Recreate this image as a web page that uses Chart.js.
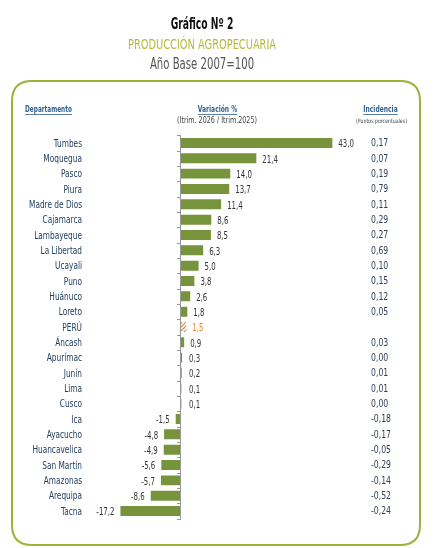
<!DOCTYPE html>
<html>
<head>
<meta charset="utf-8">
<script src="https://cdn.jsdelivr.net/npm/chart.js@4.4.0/dist/chart.umd.min.js"></script>
<style>
html,body{margin:0;padding:0;background:#fff;}
#wrap{position:relative;width:438px;height:548px;}
canvas{display:block;}
</style>
</head>
<body>
<div id="wrap"><canvas id="c" width="438" height="548"></canvas></div>
<script>
const departamentos = ["Tumbes","Moquegua","Pasco","Piura","Madre de Dios","Cajamarca","Lambayeque","La Libertad","Ucayali","Puno","Huánuco","Loreto","PERÚ","Áncash","Apurímac","Junín","Lima","Cusco","Ica","Ayacucho","Huancavelica","San Martín","Amazonas","Arequipa","Tacna"];
const variacion = [43.0,21.4,14.0,13.7,11.4,8.6,8.5,6.3,5.0,3.8,2.6,1.8,1.5,0.9,0.3,0.2,0.1,0.1,-1.5,-4.8,-4.9,-5.6,-5.7,-8.6,-17.2];
const incidencia = [0.17,0.07,0.19,0.79,0.11,0.29,0.27,0.69,0.10,0.15,0.12,0.05,null,0.03,0.00,0.01,0.01,0.00,-0.18,-0.17,-0.05,-0.29,-0.14,-0.52,-0.24];
const totalLabel = "PERÚ";

const FONT = "'Liberation Sans Narrow', 'DejaVu Sans Condensed', 'Roboto Condensed', sans-serif";
const GREEN = "#77933c";
const ORANGE = "#f0861e";

function fmt(v, d){ return v.toFixed(d).replace('.', ','); }

// draws horizontally condensed text
function ctext(ctx, t, x, y, align, sx){
  ctx.save();
  ctx.translate(x, y);
  ctx.scale(sx, 1);
  ctx.textAlign = align;
  ctx.fillText(t, 0, 0);
  ctx.restore();
}

// hatched pattern for the total bar
const pc = document.createElement('canvas');
pc.width = 4; pc.height = 4;
const px = pc.getContext('2d');
px.strokeStyle = ORANGE; px.lineWidth = 1.2;
px.beginPath(); px.moveTo(0,4); px.lineTo(4,0); px.stroke();
px.beginPath(); px.moveTo(-1,1); px.lineTo(1,-1); px.stroke();
px.beginPath(); px.moveTo(3,5); px.lineTo(5,3); px.stroke();
const ctxTmp = document.getElementById('c').getContext('2d');
const hatch = ctxTmp.createPattern(pc, 'repeat');

const colors = departamentos.map(d => d === totalLabel ? hatch : GREEN);

const decor = {
  id: 'decor',
  beforeDraw(chart){
    const ctx = chart.ctx;
    ctx.save();
    ctx.fillStyle = '#fff';
    ctx.fillRect(0,0,chart.width,chart.height);
    // titles
    ctx.textBaseline = 'middle';
    ctx.fillStyle = '#111';
    ctx.font = "bold 16px " + FONT;
    ctext(ctx, "Gráfico Nº 2", 202, 25, 'center', 0.64);
    ctx.fillStyle = '#b7b93a';
    ctx.font = "14px " + FONT;
    ctext(ctx, "PRODUCCIÓN AGROPECUARIA", 202, 45, 'center', 0.78);
    ctx.fillStyle = '#555';
    ctx.font = "15px " + FONT;
    ctext(ctx, "Año Base 2007=100", 202, 65, 'center', 0.75);
    // rounded border box
    const x0=12, y0=81, x1=420, y1=545, r=20;
    ctx.strokeStyle = '#9bb23c';
    ctx.lineWidth = 2;
    ctx.beginPath();
    ctx.moveTo(x0+r,y0); ctx.lineTo(x1-r,y0); ctx.quadraticCurveTo(x1,y0,x1,y0+r);
    ctx.lineTo(x1,y1-r); ctx.quadraticCurveTo(x1,y1,x1-r,y1);
    ctx.lineTo(x0+r,y1); ctx.quadraticCurveTo(x0,y1,x0,y1-r);
    ctx.lineTo(x0,y0+r); ctx.quadraticCurveTo(x0,y0,x0+r,y0);
    ctx.stroke();
    // headers
    const hdr = (t, x, y, sx) => {
      ctx.font = "bold 9px " + FONT;
      ctx.fillStyle = '#2f5f8f';
      ctext(ctx, t, x, y, 'center', sx);
      const w = ctx.measureText(t).width * sx;
      ctx.fillRect(x - w/2, y + 4, w, 0.8);
    };
    hdr("Departamento", 48.5, 110, 0.71);
    hdr("Variación %", 217.5, 110, 0.74);
    hdr("Incidencia", 380.5, 110, 0.74);
    ctx.fillStyle = '#444';
    ctx.font = "8px " + FONT;
    ctext(ctx, "(Itrim. 2026 / Itrim.2025)", 217, 121, 'center', 0.89);
    ctx.font = "6px " + FONT;
    ctext(ctx, "(Puntos porcentuales)", 381.5, 121, 'center', 0.86);
    ctx.restore();
  },
  afterDatasetsDraw(chart){
    const ctx = chart.ctx;
    const xs = chart.scales.x, ys = chart.scales.y;
    const zx = xs.getPixelForValue(0);
    ctx.save();
    // zero axis line with tick marks
    ctx.strokeStyle = '#999';
    ctx.lineWidth = 1;
    ctx.beginPath();
    ctx.moveTo(zx - 0.5, chart.chartArea.top);
    ctx.lineTo(zx - 0.5, chart.chartArea.bottom);
    ctx.stroke();
    const n = departamentos.length;
    const band = (chart.chartArea.bottom - chart.chartArea.top) / n;
    for (let i = 0; i <= n; i++) {
      const y = Math.round(chart.chartArea.top + i*band) + 0.5;
      ctx.beginPath(); ctx.moveTo(zx - 4, y); ctx.lineTo(zx, y); ctx.stroke();
    }
    // labels
    ctx.textBaseline = 'middle';
    departamentos.forEach((d, i) => {
      const y = ys.getPixelForValue(i);
      const v = variacion[i];
      const isTot = d === totalLabel;
      ctx.font = "10px " + FONT;
      ctx.fillStyle = '#23405f';
      ctext(ctx, d, 82, y + 1, 'right', 0.82);
      const bx = xs.getPixelForValue(v);
      ctx.font = "10.5px " + FONT;
      ctx.fillStyle = isTot ? ORANGE : '#333';
      if (v >= 0) {
        ctext(ctx, fmt(v,1), Math.max(bx, zx + 2) + 6, y + 1.5, 'left', 0.74);
      } else {
        ctext(ctx, fmt(v,1), bx - 6, y + 1.5, 'right', 0.74);
      }
      if (incidencia[i] !== null) {
        ctx.fillStyle = '#2d3f55';
        ctx.font = "10.5px " + FONT;
        ctext(ctx, fmt(incidencia[i],2), 371, y + 0.5, 'left', 0.82);
      }
    });
    ctx.restore();
  }
};

new Chart(document.getElementById('c'), {
  type: 'bar',
  data: {
    labels: departamentos,
    datasets: [{
      data: variacion,
      backgroundColor: colors,
      borderWidth: 0,
      categoryPercentage: 1.0,
      barPercentage: 0.65
    }]
  },
  options: {
    indexAxis: 'y',
    responsive: false,
    animation: false,
    devicePixelRatio: 1,
    layout: { padding: { left: 110.6, right: 81, top: 135.3, bottom: 29.3 } },
    plugins: { legend: { display: false }, tooltip: { enabled: false }, title: { display: false } },
    scales: {
      x: { type: 'linear', min: -20, max: 50, display: false, grid: { display: false } },
      y: { type: 'category', display: false, grid: { display: false }, offset: true }
    }
  },
  plugins: [decor]
});
</script>
</body>
</html>
